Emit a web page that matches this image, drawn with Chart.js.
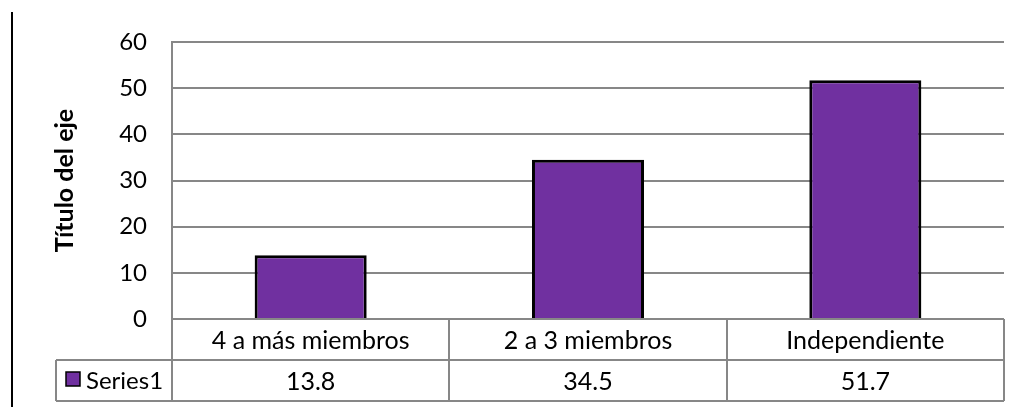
<!DOCTYPE html>
<html>
<head>
<meta charset="utf-8">
<script src="https://cdn.jsdelivr.net/npm/chart.js@4.4.1/dist/chart.umd.min.js"></script>
<style>
    html, body { margin: 0; padding: 0; background: #fff; }
    #wrap { position: relative; width: 1022px; height: 407px; }
    #edge { position: absolute; left: 11px; top: 12px; bottom: 0; border-left: 2px solid #000; }
</style>
</head>
<body>
<div id="wrap">
    <canvas id="barChart" width="1022" height="407"></canvas>
    <div id="edge"></div>
</div>
<script>
// 数据
const categories = ['4 a más miembros', '2 a 3 miembros', 'Independiente'];
const series1 = [13.8, 34.5, 51.7];
const seriesName = 'Series1';
const axisTitle = 'Título del eje';
const yMax = 60;
const yStep = 10;

const gridColor = '#878787';
const barColor = '#7030A0';
const fontFamily = 'Lato, "Noto Sans", sans-serif';

// 底部数据表
const dataTablePlugin = {
    id: 'dataTable',
    afterDraw(chart) {
        const ctx = chart.ctx;
        const area = chart.chartArea;
        const xScale = chart.scales.x;
        const n = categories.length;
        const cellW = (area.right - area.left) / n;
        const row1 = area.bottom;
        const row2 = row1 + 41;
        const row3 = row2 + 41;
        const tableLeft = 56;

        ctx.save();
        ctx.strokeStyle = gridColor;
        ctx.lineWidth = 2;
        ctx.beginPath();
        // 横线
        ctx.moveTo(tableLeft, row2); ctx.lineTo(area.right, row2);
        ctx.moveTo(tableLeft, row3); ctx.lineTo(area.right, row3);
        // 竖线
        ctx.moveTo(tableLeft, row2); ctx.lineTo(tableLeft, row3);
        for (let i = 0; i <= n; i++) {
            const x = Math.round(area.left + cellW * i);
            ctx.moveTo(x, row1); ctx.lineTo(x, row3);
        }
        ctx.stroke();

        ctx.fillStyle = '#000';
        ctx.font = '25px ' + fontFamily;
        ctx.textAlign = 'center';
        ctx.textBaseline = 'middle';
        categories.forEach((c, i) => {
            const cx = xScale.getPixelForValue(i);
            ctx.fillText(c, cx, (row1 + row2) / 2 + 1);
            ctx.fillText(series1[i].toFixed(1), cx, (row2 + row3) / 2 + 1);
        });

        // 图例标记
        ctx.fillStyle = barColor;
        ctx.fillRect(66, 372, 14, 14);
        ctx.strokeStyle = '#000';
        ctx.lineWidth = 1.5;
        ctx.strokeRect(66, 372, 14, 14);
        ctx.fillStyle = '#000';
        ctx.textAlign = 'left';
        ctx.font = '24px ' + fontFamily;
        ctx.fillText(seriesName, 86, (row2 + row3) / 2 + 1);
        ctx.restore();
    }
};

const barChart = new Chart(
    document.getElementById('barChart'),
    {
        type: 'bar',
        data: {
            labels: categories,
            datasets: [{
                label: seriesName,
                data: series1,
                backgroundColor: barColor,
                borderColor: '#000',
                borderWidth: 3,
                categoryPercentage: 1,
                barPercentage: 0.404
            }]
        },
        options: {
            responsive: false,
            animation: false,
            events: [],
            layout: {
                padding: { left: 46, right: 18, top: 42, bottom: 88 }
            },
            plugins: {
                legend: { display: false },
                tooltip: { enabled: false }
            },
            scales: {
                x: { display: false },
                y: {
                    min: 0,
                    max: yMax,
                    afterFit(scale) { scale.width = 126; },
                    ticks: {
                        stepSize: yStep,
                        padding: 25,
                        color: '#000',
                        font: { family: fontFamily, size: 24 }
                    },
                    grid: {
                        color: gridColor,
                        lineWidth: 2,
                        drawTicks: false
                    },
                    border: { color: gridColor, width: 2 },
                    title: {
                        display: true,
                        text: axisTitle,
                        color: '#000',
                        padding: { top: 4, bottom: 0 },
                        font: { family: fontFamily, size: 25, weight: 'bold' }
                    }
                }
            }
        },
        plugins: [dataTablePlugin]
    }
);
</script>
</body>
</html>
